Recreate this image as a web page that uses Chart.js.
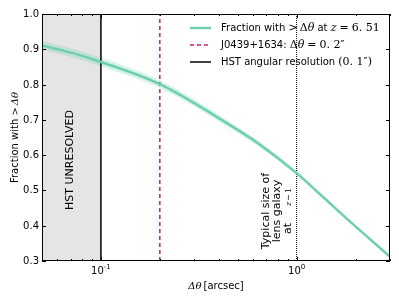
<!DOCTYPE html>
<html>
<head>
<meta charset="utf-8">
<script src="https://cdn.jsdelivr.net/npm/chart.js@4/dist/chart.umd.min.js"></script>
<style>
  html, body { margin: 0; padding: 0; background: #fff; }
  #wrap { width: 399px; height: 299px; position: relative; }
</style>
</head>
<body>
<div id="wrap"><canvas id="chart"></canvas></div>
<script>
// separation in arcsec (log axis)
const sepValues = [0.05, 0.072, 0.1, 0.2, 0.442, 0.653, 1.0, 1.33, 1.89, 3.0];
const fraction = [0.911, 0.889, 0.864, 0.801, 0.690, 0.629, 0.549, 0.487, 0.410, 0.312];
const bandHalf = [0.013, 0.012, 0.012, 0.011, 0.009, 0.008, 0.006, 0.005, 0.004, 0.003];

const yTicks = [0.3, 0.4, 0.5, 0.6, 0.7, 0.8, 0.9, 1.0];
const xMajor = [0.1, 1];
const xMinor = [0.05, 0.06, 0.07, 0.08, 0.09, 0.2, 0.3, 0.4, 0.5, 0.6, 0.7, 0.8, 0.9, 2, 3];

const hstRes = 0.1;
const lensSep = 0.2;
const galaxySize = 1.0;

const teal = "#6fd0b0";
const crimson = "#c8206a";
const sans = "'DejaVu Sans', sans-serif";
const serif = "'DejaVu Serif', serif";

const pts = (ys) => sepValues.map((x, i) => ({ x: x, y: ys[i] }));
const upper = fraction.map((v, i) => v + bandHalf[i]);
const lower = fraction.map((v, i) => v - bandHalf[i]);

// runs are [text, font] or a number (extra gap in px)
function drawRuns(ctx, runs, x, y) {
    let cx = x;
    runs.forEach(r => {
        if (typeof r === "number") { cx += r; return; }
        ctx.font = r[1];
        ctx.fillText(r[0], cx, y);
        cx += ctx.measureText(r[0]).width;
    });
    return cx - x;
}
function runsWidth(ctx, runs) {
    let w = 0;
    runs.forEach(r => {
        if (typeof r === "number") { w += r; return; }
        ctx.font = r[1]; w += ctx.measureText(r[0]).width;
    });
    return w;
}

const decor = {
    id: "decor",
    afterDraw(chart) {
        const ctx = chart.ctx;
        const xs = chart.scales.x, ys = chart.scales.y;
        const a = chart.chartArea;
        ctx.save();
        ctx.fillStyle = "#000";
        ctx.strokeStyle = "#000";
        ctx.lineWidth = 1;

        // frame
        ctx.strokeRect(a.left + 0.5, a.top + 0.5, a.right - a.left - 1, a.bottom - a.top - 1);

        // y ticks + labels
        ctx.font = "10px " + sans;
        ctx.textAlign = "right";
        ctx.textBaseline = "middle";
        yTicks.forEach(v => {
            const py = Math.round(ys.getPixelForValue(v)) + 0.5;
            ctx.beginPath();
            ctx.moveTo(a.left, py); ctx.lineTo(a.left + 4, py);
            ctx.moveTo(a.right, py); ctx.lineTo(a.right - 4, py);
            ctx.stroke();
            ctx.fillText(v.toFixed(1), a.left - 3, py);
        });

        // x ticks
        const tick = (v, len) => {
            const px = Math.round(xs.getPixelForValue(v)) + 0.5;
            ctx.beginPath();
            ctx.moveTo(px, a.bottom); ctx.lineTo(px, a.bottom - len);
            ctx.moveTo(px, a.top); ctx.lineTo(px, a.top + len);
            ctx.stroke();
        };
        xMajor.forEach(v => tick(v, 4));
        xMinor.forEach(v => tick(v, 2));

        // x tick labels 10^-1, 10^0
        ctx.textBaseline = "alphabetic";
        ctx.textAlign = "left";
        xMajor.forEach(v => {
            const px = xs.getPixelForValue(v);
            const e = String(Math.round(Math.log10(v)));
            ctx.font = "10px " + sans;
            const w1 = ctx.measureText("10").width;
            ctx.font = "7px " + sans;
            const w2 = ctx.measureText(e).width;
            const x0 = px - (w1 + w2) / 2;
            ctx.font = "10px " + sans;
            ctx.fillText("10", x0, a.bottom + 13);
            ctx.font = "7px " + sans;
            ctx.fillText(e, x0 + w1, a.bottom + 8);
        });

        // x axis title
        const xt = [["\u0394\u03b8", "italic 10px " + serif], 2, ["[arcsec]", "10px " + sans]];
        const xw = runsWidth(ctx, xt);
        drawRuns(ctx, xt, (a.left + a.right) / 2 - xw / 2, a.bottom + 28);

        // y axis title
        ctx.save();
        ctx.translate(18, (a.top + a.bottom) / 2);
        ctx.rotate(-Math.PI / 2);
        const yt = [["Fraction with ", "10px " + sans], [">", "10px " + serif], 2, ["\u0394\u03b8", "italic 10px " + serif]];
        const yw = runsWidth(ctx, yt);
        drawRuns(ctx, yt, -yw / 2, 0);
        ctx.restore();

        // HST UNRESOLVED
        ctx.save();
        ctx.translate(73, 160);
        ctx.rotate(-Math.PI / 2);
        ctx.font = "11px " + sans;
        ctx.textAlign = "center";
        ctx.fillText("HST UNRESOLVED", 0, 0);
        ctx.restore();

        // Typical size of lens galaxy at z~1 (lines centred)
        ctx.save();
        ctx.translate(269, 211);
        ctx.rotate(-Math.PI / 2);
        ctx.textAlign = "left";
        const lines = [
            [["Typical size of", "11px " + sans]],
            [["lens galaxy", "11px " + sans]],
            [["at", "11px " + sans], 17, ["z", "italic 8px " + serif], 1, ["\u223c", "8px " + serif], 1, ["1", "8px " + serif]]
        ];
        lines.forEach((ln, i) => {
            const w = runsWidth(ctx, ln);
            drawRuns(ctx, ln, -w / 2, i * 11);
        });
        ctx.restore();

        // legend
        const m = "11px " + serif, mi = "italic 11px " + serif, s = "10px " + sans;
        const rows = [
            { color: teal, dash: [], width: 2.5,
              runs: [["Fraction with ", s], [">", m], 2, ["\u0394", m], ["\u03b8", mi], [" at ", s],
                     ["z", mi], 3, ["=", m], 3, ["6. 51", m]] },
            { color: crimson, dash: [4, 3], width: 1.5,
              runs: [["J0439+1634: ", s], ["\u0394", m], ["\u03b8", mi], 3, ["=", m], 3, ["0. 2\u2033", m]] },
            { color: "#000", dash: [], width: 1.5,
              runs: [["HST angular resolution ", s], ["(0. 1\u2033)", m]] }
        ];
        ctx.textBaseline = "middle";
        ctx.textAlign = "left";
        rows.forEach((r, i) => {
            const y = 28 + i * 17;
            ctx.save();
            ctx.strokeStyle = r.color;
            ctx.lineWidth = r.width;
            ctx.setLineDash(r.dash);
            ctx.beginPath();
            ctx.moveTo(190, y); ctx.lineTo(211, y);
            ctx.stroke();
            ctx.restore();
            ctx.fillStyle = "#000";
            drawRuns(ctx, r.runs, 221, y);
        });

        ctx.restore();
    }
};

new Chart(document.getElementById("chart"), {
    type: "scatter",
    data: {
        datasets: [
            { data: pts(fraction), showLine: true, borderColor: teal, borderWidth: 2.5,
              pointRadius: 0, cubicInterpolationMode: "monotone", fill: false },
            { data: [{ x: lensSep, y: 0.3 }, { x: lensSep, y: 1.0 }], showLine: true,
              borderColor: crimson, borderWidth: 1.5, borderDash: [4, 3], pointRadius: 0 },
            { data: [{ x: galaxySize, y: 0.3 }, { x: galaxySize, y: 1.0 }], showLine: true,
              borderColor: "#000", borderWidth: 1, borderDash: [1, 1], pointRadius: 0 },
            { data: [{ x: hstRes, y: 0.3 }, { x: hstRes, y: 1.0 }], showLine: true,
              borderColor: "#000", borderWidth: 1.5, pointRadius: 0 },
            { data: pts(upper), showLine: true, borderWidth: 0, pointRadius: 0,
              cubicInterpolationMode: "monotone", backgroundColor: "rgba(111,208,176,0.28)", fill: "+1" },
            { data: pts(lower), showLine: true, borderWidth: 0, pointRadius: 0,
              cubicInterpolationMode: "monotone", fill: false },
            { data: [{ x: 0.05, y: 1.0 }, { x: hstRes, y: 1.0 }], showLine: true, borderWidth: 0,
              pointRadius: 0, backgroundColor: "#e5e5e5", fill: "start" }
        ]
    },
    options: {
        responsive: true,
        maintainAspectRatio: false,
        animation: false,
        layout: { padding: { left: 42, right: 9, top: 14, bottom: 38 } },
        plugins: { legend: { display: false }, tooltip: { enabled: false } },
        scales: {
            x: { type: "logarithmic", min: 0.05, max: 3, display: false },
            y: { type: "linear", min: 0.3, max: 1.0, display: false }
        }
    },
    plugins: [decor]
});
</script>
</body>
</html>
